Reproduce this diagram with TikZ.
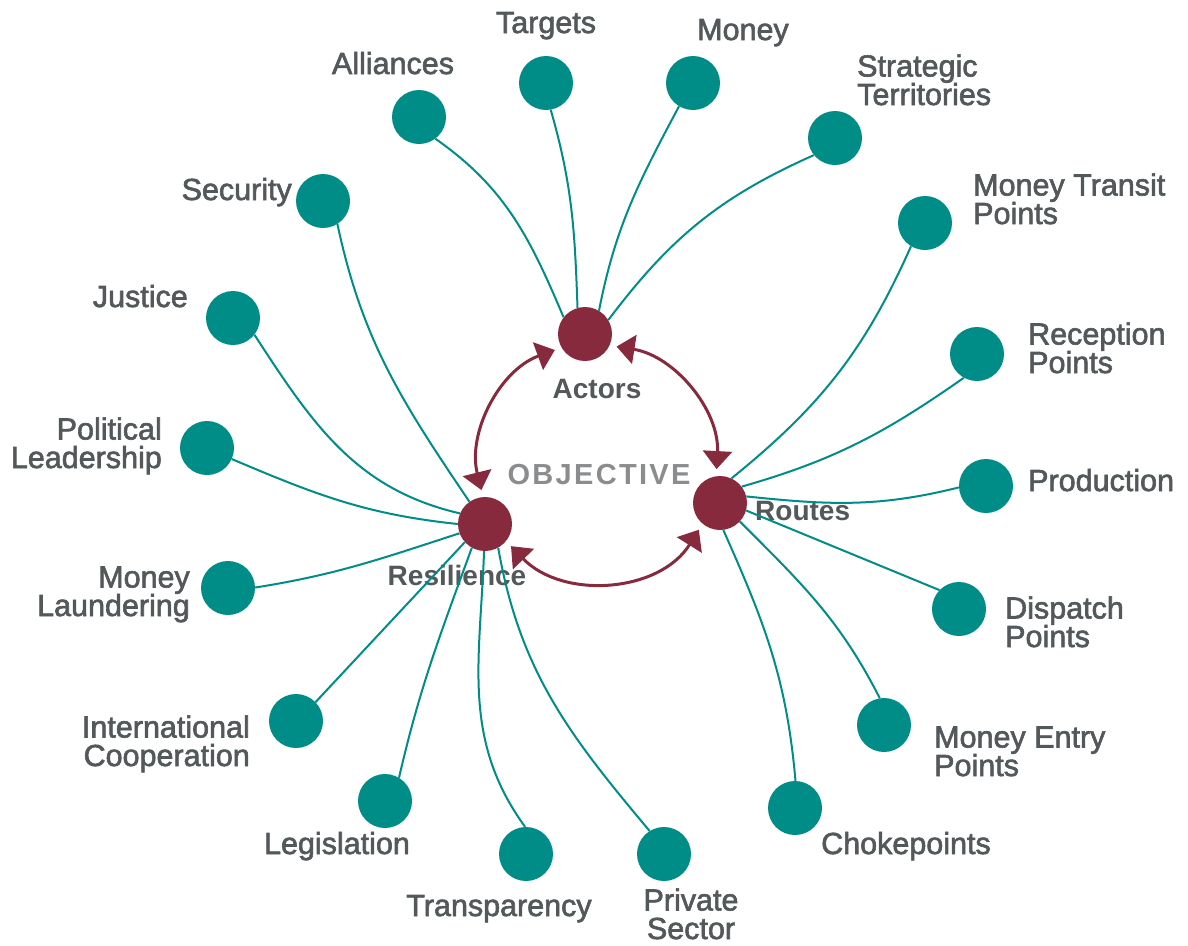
\documentclass[tikz,border=0pt]{standalone}
\usepackage{fontspec}
\setmainfont{Liberation Sans}
\newfontfamily\medfont[FakeBold=2]{Liberation Sans}
\newfontfamily\objfont[LetterSpace=8]{Liberation Sans}
\usetikzlibrary{arrows.meta}
\definecolor{leafgreen}{HTML}{008C87}
\definecolor{wine}{HTML}{882A3E}
\definecolor{ink}{HTML}{53585A}
\definecolor{fog}{HTML}{8A8C8D}

\begin{document}
\begin{tikzpicture}[x=1pt, y=1pt,
  hub/.style={circle, fill=wine, minimum size=54pt, inner sep=0pt},
  leaf/.style={circle, fill=leafgreen, minimum size=54pt, inner sep=0pt},
  tag/.style={text=ink, font=\medfont\fontsize{30.5}{28.5}\selectfont, inner sep=0pt},
  hubtag/.style={text=ink, font=\bfseries\fontsize{28}{28}\selectfont, inner sep=0pt},
  spoke/.style={draw=leafgreen, line width=2pt},
  loopline/.style={color=wine, line width=3pt, {Triangle[length=18pt,width=29pt]}-{Triangle[length=18pt,width=29pt]}, shorten <=7pt, shorten >=7pt}]
  \useasboundingbox (0,0) rectangle (1188,-945);

  % the three hubs
  \node[hub] (act) at (585,-334) {};
  \node[hub] (res) at (485,-524) {};
  \node[hub] (rou) at (720,-503) {};
  \node[hubtag, anchor=base] at (597,-398) {Actors};
  \node[hubtag, anchor=base] at (457,-585) {Resilience};
  \node[hubtag, anchor=base west] at (755,-520) {Routes};
  \node[text=fog, font=\objfont\bfseries\fontsize{29}{29}\selectfont] (obj) at (599,-475) {OBJECTIVE};

  % actors
  \node[leaf] (ali) at (419,-117) {};
  \node[leaf] (tar) at (546,-83) {};
  \node[leaf] (mon) at (693,-83) {};
  \node[leaf] (ter) at (835,-138) {};
  \node[tag, anchor=base] at (393,-74) {Alliances};
  \node[tag, anchor=base] at (546,-33) {Targets};
  \node[tag, anchor=base west] at (697,-40) {Money};
  \node[tag, anchor=base west, align=left] at (857,-105) {Strategic\\Territories};

  % routes
  \node[leaf] (tra) at (925,-223) {};
  \node[leaf] (rec) at (977,-354) {};
  \node[leaf] (pro) at (986,-486) {};
  \node[leaf] (dis) at (959,-609) {};
  \node[leaf] (ent) at (884,-725) {};
  \node[leaf] (cho) at (795,-808) {};
  \node[tag, anchor=base west, align=left] at (973,-224) {Money Transit\\Points};
  \node[tag, anchor=base west, align=left] at (1028,-373) {Reception\\Points};
  \node[tag, anchor=base west] at (1028,-491) {Production};
  \node[tag, anchor=base west, align=left] at (1005,-647) {Dispatch\\Points};
  \node[tag, anchor=base west, align=left] at (934,-776) {Money Entry\\Points};
  \node[tag, anchor=base west] at (821,-854) {Chokepoints};

  % resilience
  \node[leaf] (sec) at (323,-201) {};
  \node[leaf] (jus) at (233,-318) {};
  \node[leaf] (pol) at (207,-448) {};
  \node[leaf] (lau) at (228,-588) {};
  \node[leaf] (coo) at (296,-721) {};
  \node[leaf] (leg) at (385,-801) {};
  \node[leaf] (tsp) at (526,-854) {};
  \node[leaf] (pri) at (664,-854) {};
  \node[tag, anchor=base east] at (292,-200) {Security};
  \node[tag, anchor=base east] at (188,-307) {Justice};
  \node[tag, anchor=base east, align=right] at (162,-468) {Political\\Leadership};
  \node[tag, anchor=base east, align=right] at (190,-616) {Money\\Laundering};
  \node[tag, anchor=base east, align=right] at (250,-766) {International\\Cooperation};
  \node[tag, anchor=base] at (337,-854) {Legislation};
  \node[tag, anchor=base] at (499,-916) {Transparency};
  \node[tag, anchor=base, align=center] at (691,-939) {Private\\Sector};

  \path[spoke]
  (act.142) edge[out=113, in=-35] (ali.-53)
  (act.106) edge[out=92, in=-74] (tar.-80)
  (act.59) edge[out=79, in=-118] (mon.-121)
  (act.31) edge[out=53, in=-156] (ter.-141)
  (rou.65) edge[out=39, in=-114] (tra.-121)
  (rou.37) edge[out=16, in=-145] (rec.-119)
  (rou.14) edge[out=-6, in=-166] (pro.-177)
  (rou.-16) edge (dis.136)
  (rou.-43) edge[out=-45, in=117] (ent.99)
  (rou.-83) edge[out=-66, in=95] (cho.89)
  (res.125) edge[out=124, in=-78] (sec.-58)
  (res.157) edge[out=167, in=-57] (jus.-38)
  (res.180) edge[out=174, in=-23] (pol.-24)
  (res.-160) edge[out=-162, in=9] (lau.1)
  (res.-138) edge (coo.44)
  (res.-119) edge[out=-110, in=77] (leg.59)
  (res.-92) edge[out=-92, in=126] (tsp.92)
  (res.-61) edge[out=-80, in=130] (pri.122)
  ;
  \draw[loopline] (act.-25) to[out=-9, in=87] (rou.98);
  \draw[loopline] (act.-150) to[out=-160, in=104] (res.94);
  \draw[loopline] (res.-39) to[out=-46, in=-122, looseness=1.06] (rou.-130);
\end{tikzpicture}
\end{document}
